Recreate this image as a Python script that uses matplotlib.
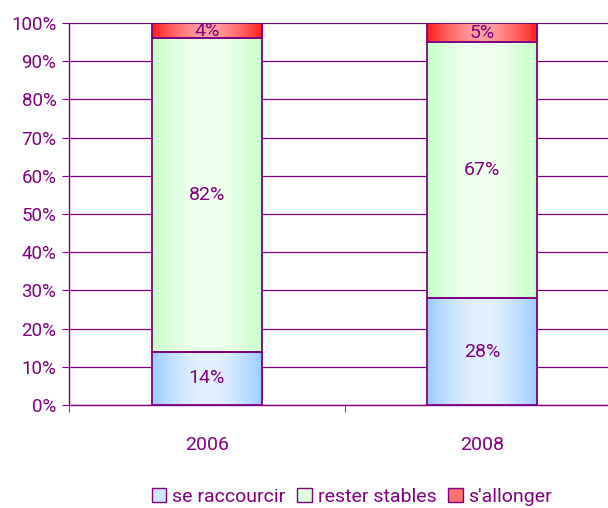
import numpy as np
import matplotlib
matplotlib.use("Agg")
import matplotlib.pyplot as plt
from matplotlib.colors import LinearSegmentedColormap
from matplotlib.patches import Rectangle

plt.rcParams['font.family'] = ['Roboto', 'DejaVu Sans']

categories = ['2006', '2008']
series_names = ['se raccourcir', 'rester stables', "s'allonger"]
se_raccourcir = [14, 28]
rester_stables = [82, 67]
s_allonger = [4, 5]
ytick_labels = ['0%', '10%', '20%', '30%', '40%', '50%', '60%', '70%', '80%', '90%', '100%']

purple = '#800080'
grads = [('#99CCFF', '#E6F2FF'), ('#C8FFC8', '#F2FFF2'), ('#FF1A1A', '#FFA0A0')]
legend_fill = ['#CCE6FF', '#DDFFDD', '#FF7070']

fig = plt.figure(figsize=(6.08, 5.08), dpi=100)
ax = fig.add_axes([69/608, 103/508, 551/608, 382/508])

width = 0.40
data = [se_raccourcir, rester_stables, s_allonger]
x = np.arange(len(categories))
bottoms = np.zeros(len(categories))
for si, vals in enumerate(data):
    ce, cm = grads[si]
    cmap = LinearSegmentedColormap.from_list('g', [cm, ce], N=256)
    for i, v in enumerate(vals):
        b = bottoms[i]
        bars = ax.bar(x[i], v, width, bottom=b, facecolor='none', edgecolor=purple, linewidth=1.3, zorder=4)
        xx = np.linspace(-1, 1, 256)
        img = np.abs(xx)[None, :] ** 1.6
        im = ax.imshow(img, cmap=cmap, vmin=0, vmax=1, aspect='auto',
                       extent=(x[i] - width/2, x[i] + width/2, b, b + v), zorder=3)
        im.set_clip_path(bars.patches[0])
        ax.text(x[i], b + v/2, f'{v}%', ha='center', va='center', color=purple, fontsize=14, zorder=5)
    bottoms += np.array(vals)

ax.set_xlim(-0.5, 1.5)
ax.set_ylim(0, 100)
ax.set_yticks(np.arange(0, 101, 10))
ax.set_yticklabels(ytick_labels, color=purple, fontsize=13.5)
ax.yaxis.grid(True, color=purple, linewidth=0.9)
ax.set_axisbelow(True)
ax.set_xticks([0, 1])
ax.set_xticklabels(categories, color=purple, fontsize=14)
ax.set_xticks([-0.5, 0.5, 1.5], minor=True)
ax.tick_params(axis='x', which='major', length=0, pad=22)
ax.tick_params(axis='x', which='minor', length=5, color=purple, direction='out')
ax.tick_params(axis='y', length=5, color=purple, direction='out', pad=4)
for s in ['top', 'right']:
    ax.spines[s].set_visible(False)
for s in ['left', 'bottom']:
    ax.spines[s].set_color(purple)
    ax.spines[s].set_linewidth(1.0)

handles = [Rectangle((0, 0), 1, 1, facecolor=legend_fill[si], edgecolor=purple, linewidth=1) for si in range(3)]
fig.legend(handles, series_names, loc='center', bbox_to_anchor=(352/608, 1 - 497/508),
           ncol=3, frameon=False, fontsize=14, handlelength=0.75, handleheight=0.75,
           handletextpad=0.3, columnspacing=0.6, labelcolor=purple)

fig.savefig('out.png', dpi=100)
